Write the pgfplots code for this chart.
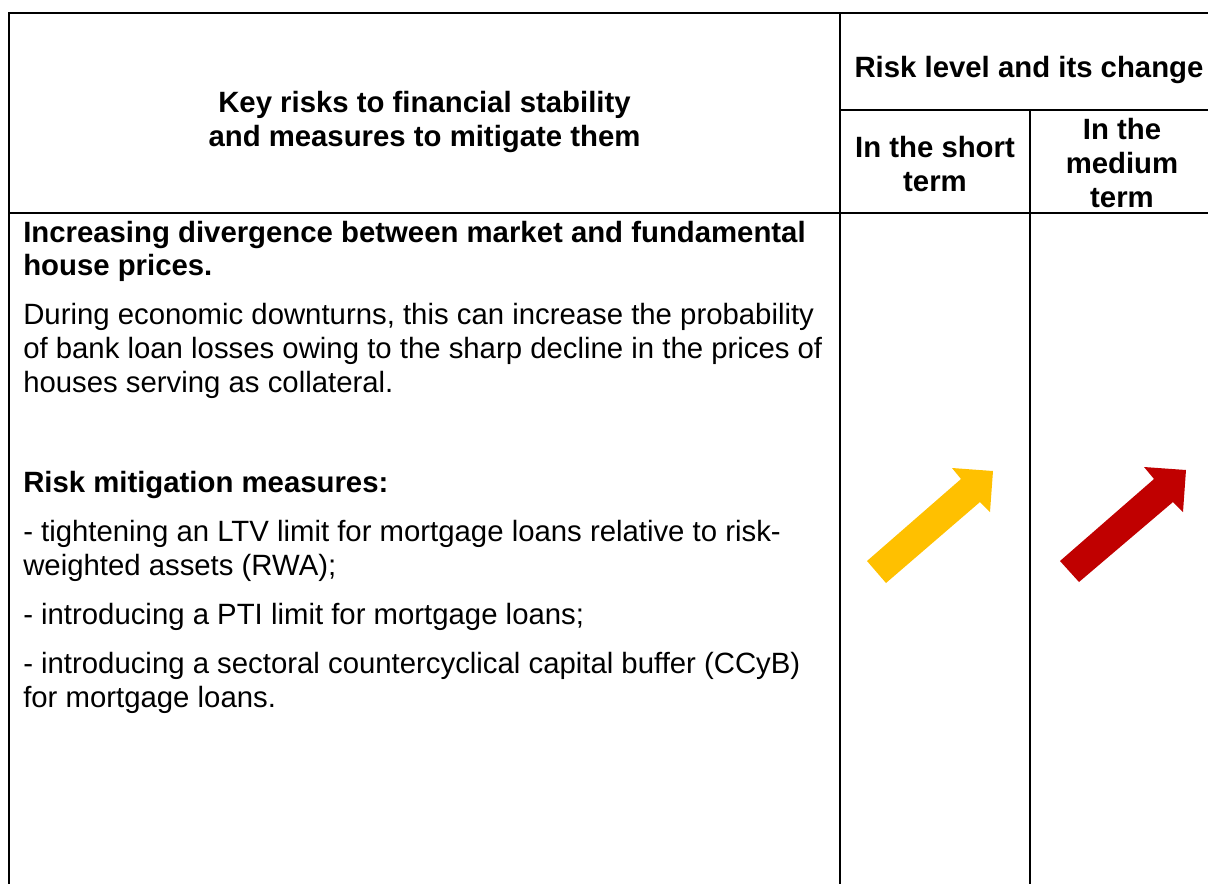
\documentclass[border=0pt]{standalone}
\usepackage{fontspec}
\setmainfont{Liberation Sans}
\usepackage{pgfplots}
\pgfplotsset{compat=1.18}
\definecolor{arrowYellow}{HTML}{FFC000}
\definecolor{arrowRed}{HTML}{C00000}
\newcommand\Rg{\fontsize{22}{25.5}\selectfont}
\newcommand\Bd{\fontsize{22}{25.5}\selectfont\bfseries}
\begin{document}
\begin{tikzpicture}
\begin{axis}[
  width=906pt, height=662.25pt, scale only axis,
  xmin=0, xmax=1208, ymin=0, ymax=883, y dir=reverse,
  hide axis, clip=true,
]
% table rules
\addplot[black, line width=2pt, line join=miter] coordinates {(9,900) (9,13) (1230,13)};
\addplot[black, line width=2pt] coordinates {(840,13) (840,900)};
\addplot[black, line width=2pt] coordinates {(840,110) (1230,110)};
\addplot[black, line width=2pt] coordinates {(8,213) (1230,213)};
\addplot[black, line width=2pt] coordinates {(1030,110) (1030,900)};
% arrows
\addplot[fill=arrowYellow, draw=none] coordinates {(867,561) (961,479) (952,468) (993,471) (990,512) (980,502) (886,583)};
\addplot[fill=arrowRed, draw=none] coordinates {(1060,561) (1154,479) (1144,467) (1186,470) (1183,512) (1173,502) (1079,582)};
% header
\node[anchor=base, inner sep=0, font=\Bd] at (axis cs:424.5,112) {Key risks to financial stability};
\node[anchor=base, inner sep=0, font=\Bd] at (axis cs:424.5,146) {and measures to mitigate them};
\node[anchor=base, inner sep=0, font=\Bd] at (axis cs:1029,77) {Risk level and its change};
\node[anchor=base, inner sep=0, font=\Bd] at (axis cs:935,157) {In the short};
\node[anchor=base, inner sep=0, font=\Bd] at (axis cs:935,191) {term};
\node[anchor=base, inner sep=0, font=\Bd] at (axis cs:1122,139) {In the};
\node[anchor=base, inner sep=0, font=\Bd] at (axis cs:1122,173) {medium};
\node[anchor=base, inner sep=0, font=\Bd] at (axis cs:1122,207) {term};
% body
\node[anchor=base west, inner sep=0, font=\Bd] at (axis cs:23,242) {Increasing divergence between market and fundamental};
\node[anchor=base west, inner sep=0, font=\Bd] at (axis cs:23,275) {house prices.};
\node[anchor=base west, inner sep=0, font=\Rg] at (axis cs:23,324) {During economic downturns, this can increase the probability};
\node[anchor=base west, inner sep=0, font=\Rg] at (axis cs:23,358) {of bank loan losses owing to the sharp decline in the prices of};
\node[anchor=base west, inner sep=0, font=\Rg] at (axis cs:23,392) {houses serving as collateral.};
\node[anchor=base west, inner sep=0, font=\Bd] at (axis cs:23,492) {Risk mitigation measures:};
\node[anchor=base west, inner sep=0, font=\Rg] at (axis cs:23,541) {- tightening an LTV limit for mortgage loans relative to risk-};
\node[anchor=base west, inner sep=0, font=\Rg] at (axis cs:23,575) {weighted assets (RWA);};
\node[anchor=base west, inner sep=0, font=\Rg] at (axis cs:23,624) {- introducing a PTI limit for mortgage loans;};
\node[anchor=base west, inner sep=0, font=\Rg] at (axis cs:23,673) {- introducing a sectoral countercyclical capital buffer (CCyB)};
\node[anchor=base west, inner sep=0, font=\Rg] at (axis cs:23,707) {for mortgage loans.};
\end{axis}
\pgfresetboundingbox
\useasboundingbox (current axis.south west) rectangle (current axis.north east);
\end{tikzpicture}
\end{document}
